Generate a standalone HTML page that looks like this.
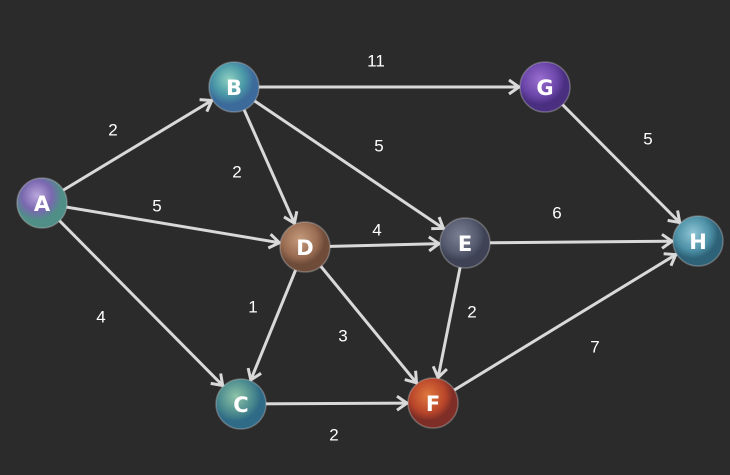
<!DOCTYPE html>
<html><head><meta charset="utf-8"><style>
html,body{margin:0;padding:0;background:#2b2b2b;}
svg{display:block;}
.l{fill:#fff;font-family:"Liberation Sans",sans-serif;font-size:17px;text-anchor:middle;dominant-baseline:central;}
.n{fill:#fff;font-family:"DejaVu Sans",sans-serif;font-weight:bold;font-size:21px;text-anchor:middle;dominant-baseline:central;}
</style></head><body>
<svg width="730" height="475" viewBox="0 0 730 475">
<defs>
<marker id="ar" markerUnits="userSpaceOnUse" markerWidth="60" markerHeight="30" refX="36" refY="0" viewBox="-20 -15 60 30" orient="auto" overflow="visible">
<path d="M0,-7 L10,0 L0,7" fill="none" stroke="#d9d9d9" stroke-width="3"/>
</marker>
<radialGradient id="gA" cx="40%" cy="35%"><stop offset="0" stop-color="#b9a6dc"/><stop offset=".6" stop-color="#7a68b0"/><stop offset="1" stop-color="#4f8f87"/></radialGradient>
<radialGradient id="gB" cx="40%" cy="35%"><stop offset="0" stop-color="#8fd0c0"/><stop offset=".6" stop-color="#4c9aa8"/><stop offset="1" stop-color="#3c6a9a"/></radialGradient>
<radialGradient id="gG" cx="40%" cy="35%"><stop offset="0" stop-color="#9a6fd0"/><stop offset=".7" stop-color="#6a45a8"/><stop offset="1" stop-color="#4a2f80"/></radialGradient>
<radialGradient id="gD" cx="40%" cy="35%"><stop offset="0" stop-color="#c49a7c"/><stop offset=".7" stop-color="#9a6d52"/><stop offset="1" stop-color="#6f4c3a"/></radialGradient>
<radialGradient id="gE" cx="40%" cy="35%"><stop offset="0" stop-color="#7c8094"/><stop offset=".7" stop-color="#575b70"/><stop offset="1" stop-color="#3e4254"/></radialGradient>
<radialGradient id="gH" cx="40%" cy="35%"><stop offset="0" stop-color="#8fc6d6"/><stop offset=".7" stop-color="#4b8ea4"/><stop offset="1" stop-color="#2e6278"/></radialGradient>
<radialGradient id="gC" cx="40%" cy="35%"><stop offset="0" stop-color="#8fc4a8"/><stop offset=".7" stop-color="#4a8a8e"/><stop offset="1" stop-color="#2f6a86"/></radialGradient>
<radialGradient id="gF" cx="40%" cy="35%"><stop offset="0" stop-color="#e0793e"/><stop offset=".7" stop-color="#b8452a"/><stop offset="1" stop-color="#7e2e26"/></radialGradient>
</defs>
<g stroke="#d9d9d9" stroke-width="3" marker-end="url(#ar)">
<line x1="42" y1="203" x2="234" y2="87"/>
<line x1="42" y1="203" x2="305" y2="247"/>
<line x1="42" y1="203" x2="241" y2="404"/>
<line x1="234" y1="87" x2="545" y2="87"/>
<line x1="234" y1="87" x2="305" y2="247"/>
<line x1="234" y1="87" x2="465" y2="243"/>
<line x1="305" y1="247" x2="465" y2="243"/>
<line x1="305" y1="247" x2="241" y2="404"/>
<line x1="305" y1="247" x2="433" y2="403"/>
<line x1="545" y1="87" x2="698" y2="241"/>
<line x1="465" y1="243" x2="698" y2="241"/>
<line x1="465" y1="243" x2="433" y2="403"/>
<line x1="241" y1="404" x2="433" y2="403"/>
<line x1="433" y1="403" x2="698" y2="241"/>
</g>
<g stroke="#cfcfcf" stroke-opacity=".35" stroke-width="1.5">
<circle cx="42" cy="203" r="25" fill="url(#gA)"/>
<circle cx="234" cy="87" r="25" fill="url(#gB)"/>
<circle cx="545" cy="87" r="25" fill="url(#gG)"/>
<circle cx="305" cy="247" r="25" fill="url(#gD)"/>
<circle cx="465" cy="243" r="25" fill="url(#gE)"/>
<circle cx="698" cy="241" r="25" fill="url(#gH)"/>
<circle cx="241" cy="404" r="25" fill="url(#gC)"/>
<circle cx="433" cy="403" r="25" fill="url(#gF)"/>
</g>
<text class="n" x="42" y="204">A</text>
<text class="n" x="234" y="88">B</text>
<text class="n" x="545" y="88">G</text>
<text class="n" x="305" y="248">D</text>
<text class="n" x="465" y="244">E</text>
<text class="n" x="698" y="242">H</text>
<text class="n" x="241" y="405">C</text>
<text class="n" x="433" y="404">F</text>
<text class="l" x="113" y="130">2</text>
<text class="l" x="376" y="61">11</text>
<text class="l" x="379" y="146">5</text>
<text class="l" x="237" y="172">2</text>
<text class="l" x="157" y="206">5</text>
<text class="l" x="377" y="230">4</text>
<text class="l" x="557" y="213">6</text>
<text class="l" x="648" y="139">5</text>
<text class="l" x="253" y="307">1</text>
<text class="l" x="101" y="317">4</text>
<text class="l" x="343" y="336">3</text>
<text class="l" x="472" y="312">2</text>
<text class="l" x="595" y="347">7</text>
<text class="l" x="334" y="435">2</text>
</svg>
</body></html>
